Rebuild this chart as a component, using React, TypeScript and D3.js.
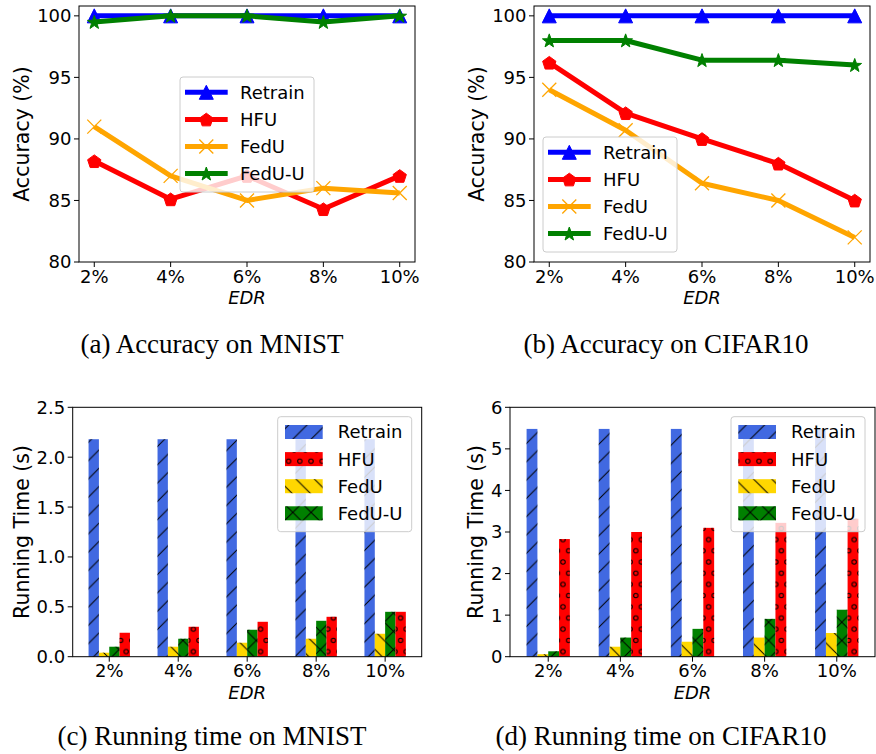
import React from "react";
import * as d3 from "d3";

// ---- data ----
const edrLabels = ["2%", "4%", "6%", "8%", "10%"];
const methodNames = ["Retrain", "HFU", "FedU", "FedU-U"];

const accMnistRetrain = [100, 100, 100, 100, 100];
const accMnistHFU = [88.2, 85.1, 87.0, 84.3, 87.0];
const accMnistFedU = [91.0, 87.0, 85.0, 86.0, 85.6];
const accMnistFedUU = [99.5, 100, 100, 99.5, 100];

const accCifarRetrain = [100, 100, 100, 100, 100];
const accCifarHFU = [96.2, 92.1, 90.0, 88.0, 85.0];
const accCifarFedU = [94.0, 90.7, 86.4, 85.0, 82.0];
const accCifarFedUU = [98.0, 98.0, 96.4, 96.4, 96.0];

const timeMnistRetrain = [2.18, 2.18, 2.18, 2.18, 2.18];
const timeMnistHFU = [0.24, 0.3, 0.35, 0.4, 0.45];
const timeMnistFedU = [0.04, 0.1, 0.14, 0.18, 0.23];
const timeMnistFedUU = [0.1, 0.18, 0.27, 0.36, 0.45];

const timeCifarRetrain = [5.48, 5.48, 5.48, 5.48, 5.48];
const timeCifarHFU = [2.83, 3.0, 3.1, 3.22, 3.32];
const timeCifarFedU = [0.06, 0.24, 0.36, 0.46, 0.57];
const timeCifarFedUU = [0.13, 0.46, 0.67, 0.91, 1.13];

const accTicks = [80, 85, 90, 95, 100];
const timeMnistTicks = [0, 0.5, 1.0, 1.5, 2.0, 2.5];
const timeCifarTicks = [0, 1, 2, 3, 4, 5, 6];

// ---- styles ----
const FONT = "DejaVu Sans";
const lineColor: Record<string, string> = {
  Retrain: "#0000ff",
  HFU: "#ff0000",
  FedU: "#ffa500",
  "FedU-U": "#008000",
};
const lineMarker: Record<string, string> = {
  Retrain: "tri",
  HFU: "pent",
  FedU: "x",
  "FedU-U": "star",
};
const barColor: Record<string, string> = {
  Retrain: "#4169e1",
  HFU: "#ff0000",
  FedU: "#ffd700",
  "FedU-U": "#008000",
};
const barHatch: Record<string, string> = {
  Retrain: "hatch-slash",
  HFU: "hatch-circle",
  FedU: "hatch-back",
  "FedU-U": "hatch-cross",
};
// left-to-right order of the bars inside a group
const barOrder = ["Retrain", "FedU", "FedU-U", "HFU"];
const BAR_W = 0.15;

function starPath(cx: number, cy: number, R: number, r: number) {
  const pts: string[] = [];
  for (let k = 0; k < 10; k++) {
    const a = -Math.PI / 2 + (k * Math.PI) / 5;
    const rr = k % 2 === 0 ? R : r;
    pts.push(`${cx + rr * Math.cos(a)},${cy + rr * Math.sin(a)}`);
  }
  return "M" + pts.join("L") + "Z";
}

function pentPath(cx: number, cy: number, R: number) {
  const pts: string[] = [];
  for (let k = 0; k < 5; k++) {
    const a = -Math.PI / 2 + (k * 2 * Math.PI) / 5;
    pts.push(`${cx + R * Math.cos(a)},${cy + R * Math.sin(a)}`);
  }
  return "M" + pts.join("L") + "Z";
}

function Marker({ kind, x, y, color }: { kind: string; x: number; y: number; color: string }) {
  if (kind === "tri") {
    return <path d={`M${x},${y - 7}L${x + 7},${y + 7}L${x - 7},${y + 7}Z`} fill={color} stroke={color} strokeWidth={1} />;
  }
  if (kind === "pent") {
    return <path d={pentPath(x, y + 0.8, 7)} fill={color} stroke={color} strokeWidth={1} />;
  }
  if (kind === "star") {
    return <path d={starPath(x, y + 0.6, 7.2, 2.9)} fill={color} stroke={color} strokeWidth={1} />;
  }
  return (
    <path d={`M${x - 7},${y - 7}L${x + 7},${y + 7}M${x - 7},${y + 7}L${x + 7},${y - 7}`} stroke={color} strokeWidth={1.3} fill="none" />
  );
}

type Frame = { x0: number; x1: number; y0: number; y1: number };

function Legend({ x, y, kind }: { x: number; y: number; kind: "line" | "bar" }) {
  const w = 134;
  const h = 115;
  return (
    <g>
      <rect x={x} y={y} width={w} height={h} rx={3} fill="#ffffff" fillOpacity={0.8} stroke="#cccccc" strokeWidth={1} />
      {methodNames.map((m, i) => {
        const cy = y + 15.3 + i * 27.1;
        return (
          <g key={m}>
            {kind === "line" ? (
              <g>
                <line x1={x + 5} x2={x + 47.7} y1={cy} y2={cy} stroke={lineColor[m]} strokeWidth={5} />
                <Marker kind={lineMarker[m]} x={x + 26.3} y={cy} color={lineColor[m]} />
              </g>
            ) : (
              <g>
                <rect x={x + 7.3} y={cy - 7} width={37.7} height={14} fill={barColor[m]} />
                <rect x={x + 7.3} y={cy - 7} width={37.7} height={14} fill={`url(#${barHatch[m]})`} />
              </g>
            )}
            <text x={x + 60} y={cy} dy="0.36em" fontFamily={FONT} fontSize={18} fill="#000">
              {m}
            </text>
          </g>
        );
      })}
    </g>
  );
}

function Axes({
  f,
  x,
  y,
  yTicks,
  yFmt,
  ylabel,
  ylabelX,
}: {
  f: Frame;
  x: d3.ScaleLinear<number, number>;
  y: d3.ScaleLinear<number, number>;
  yTicks: number[];
  yFmt: (v: number) => string;
  ylabel: string;
  ylabelX: number;
}) {
  return (
    <g fontFamily={FONT} fill="#000">
      <rect x={f.x0} y={f.y0} width={f.x1 - f.x0} height={f.y1 - f.y0} fill="none" stroke="#000" strokeWidth={1} />
      {yTicks.map((t) => (
        <g key={t}>
          <line x1={f.x0 - 5} x2={f.x0} y1={y(t)} y2={y(t)} stroke="#000" strokeWidth={1} />
          <text x={f.x0 - 7.5} y={y(t)} dy="0.36em" textAnchor="end" fontSize={18}>
            {yFmt(t)}
          </text>
        </g>
      ))}
      {edrLabels.map((l, i) => (
        <g key={l}>
          <line x1={x(i)} x2={x(i)} y1={f.y1} y2={f.y1 + 5} stroke="#000" strokeWidth={1} />
          <text x={x(i)} y={f.y1 + 20.7} textAnchor="middle" fontSize={18}>
            {l}
          </text>
        </g>
      ))}
      <text x={(f.x0 + f.x1) / 2} y={f.y1 + 41.8} textAnchor="middle" fontSize={18} fontStyle="italic">
        EDR
      </text>
      <text
        transform={`translate(${ylabelX},${(f.y0 + f.y1) / 2}) rotate(-90)`}
        textAnchor="middle"
        dy="0.32em"
        fontSize={20.5}
      >
        {ylabel}
      </text>
    </g>
  );
}

function LinePanel({
  f,
  series,
  ylabelX,
  legendPos,
}: {
  f: Frame;
  series: number[][];
  ylabelX: number;
  legendPos: [number, number];
}) {
  const x = d3.scaleLinear().domain([-0.2, 4.2]).range([f.x0, f.x1]);
  const y = d3.scaleLinear().domain([80, 100.8]).range([f.y1, f.y0]);
  const line = d3
    .line<number>()
    .x((_d, i) => x(i))
    .y((d) => y(d));
  return (
    <g>
      {series.map((vals, si) => {
        const m = methodNames[si];
        return (
          <g key={m}>
            <path d={line(vals) || ""} fill="none" stroke={lineColor[m]} strokeWidth={5} strokeLinejoin="round" />
            {vals.map((v, i) => (
              <Marker key={i} kind={lineMarker[m]} x={x(i)} y={y(v)} color={lineColor[m]} />
            ))}
          </g>
        );
      })}
      <Axes f={f} x={x} y={y} yTicks={accTicks} yFmt={(v) => String(v)} ylabel="Accuracy (%)" ylabelX={ylabelX} />
      <Legend x={legendPos[0]} y={legendPos[1]} kind="line" />
    </g>
  );
}

function BarPanel({
  f,
  series,
  yMax,
  yTicks,
  yFmt,
  ylabelX,
  legendPos,
}: {
  f: Frame;
  series: Record<string, number[]>;
  yMax: number;
  yTicks: number[];
  yFmt: (v: number) => string;
  ylabelX: number;
  legendPos: [number, number];
}) {
  const x = d3.scaleLinear().domain([-0.53, 4.53]).range([f.x0, f.x1]);
  const y = d3.scaleLinear().domain([0, yMax]).range([f.y1, f.y0]);
  const bw = x(BAR_W) - x(0);
  return (
    <g>
      {barOrder.map((m, j) => {
        const off = (j - 1.5) * BAR_W;
        return (
          <g key={m}>
            {series[m].map((v, i) => {
              const bx = x(i + off - BAR_W / 2);
              const by = y(v);
              const bh = y(0) - by;
              return (
                <g key={i}>
                  <rect x={bx} y={by} width={bw} height={bh} fill={barColor[m]} />
                  <rect x={bx} y={by} width={bw} height={bh} fill={`url(#${barHatch[m]})`} />
                </g>
              );
            })}
          </g>
        );
      })}
      <Axes f={f} x={x} y={y} yTicks={yTicks} yFmt={yFmt} ylabel="Running Time (s)" ylabelX={ylabelX} />
      <Legend x={legendPos[0]} y={legendPos[1]} kind="bar" />
    </g>
  );
}

function HatchDefs() {
  const s = 18.3;
  const c = 11.2;
  const hs = { stroke: "#000", strokeWidth: 1, fill: "none" };
  return (
    <defs>
      <pattern id="hatch-slash" patternUnits="userSpaceOnUse" width={s} height={s}>
        <path d={`M-2,${s + 2}L${s + 2},-2M-2,2L2,-2M${s - 2},${s + 2}L${s + 2},${s - 2}`} {...hs} />
      </pattern>
      <pattern id="hatch-back" patternUnits="userSpaceOnUse" width={s} height={s}>
        <path d={`M-2,-2L${s + 2},${s + 2}M-2,${s - 2}L2,${s + 2}M${s - 2},-2L${s + 2},2`} {...hs} />
      </pattern>
      <pattern id="hatch-cross" patternUnits="userSpaceOnUse" width={s} height={s}>
        <path
          d={`M-2,${s + 2}L${s + 2},-2M-2,2L2,-2M${s - 2},${s + 2}L${s + 2},${s - 2}M-2,-2L${s + 2},${s + 2}M-2,${s - 2}L2,${s + 2}M${s - 2},-2L${s + 2},2`}
          {...hs}
        />
      </pattern>
      <pattern id="hatch-circle" patternUnits="userSpaceOnUse" width={c} height={c * 2} x={3} y={2}>
        {[
          [0, 0],
          [c, 0],
          [c / 2, c],
          [0, 2 * c],
          [c, 2 * c],
        ].map(([px, py], i) => (
          <circle key={i} cx={px} cy={py} r={2.2} {...hs} />
        ))}
      </pattern>
    </defs>
  );
}

export default function App() {
  const fa: Frame = { x0: 79, x1: 415, y0: 6, y1: 262 };
  const fb: Frame = { x0: 534, x1: 870, y0: 6, y1: 262 };
  const fc: Frame = { x0: 72.7, x1: 421.7, y0: 407.3, y1: 656.7 };
  const fd: Frame = { x0: 510, x1: 875, y0: 407.3, y1: 656.7 };

  return (
    <div>
      <style>{"body{margin:0;background:#fff}"}</style>
      <svg width={876} height={754} viewBox="0 0 876 754" style={{ display: "block" }}>
        <rect width={876} height={754} fill="#fff" />
        <HatchDefs />
        <LinePanel
          f={fa}
          series={[accMnistRetrain, accMnistHFU, accMnistFedU, accMnistFedUU]}
          ylabelX={fa.x0 - 57}
          legendPos={[(fa.x0 + fa.x1) / 2 - 67, (fa.y0 + fa.y1) / 2 - 57]}
        />
        <LinePanel
          f={fb}
          series={[accCifarRetrain, accCifarHFU, accCifarFedU, accCifarFedUU]}
          ylabelX={fb.x0 - 57}
          legendPos={[fb.x0 + 9, fb.y1 - 10 - 115]}
        />
        <BarPanel
          f={fc}
          series={{ Retrain: timeMnistRetrain, HFU: timeMnistHFU, FedU: timeMnistFedU, "FedU-U": timeMnistFedUU }}
          yMax={2.5}
          yTicks={timeMnistTicks}
          yFmt={d3.format(".1f")}
          ylabelX={fc.x0 - 50}
          legendPos={[fc.x1 - 10 - 134, fc.y0 + 9.4]}
        />
        <BarPanel
          f={fd}
          series={{ Retrain: timeCifarRetrain, HFU: timeCifarHFU, FedU: timeCifarFedU, "FedU-U": timeCifarFedUU }}
          yMax={6}
          yTicks={timeCifarTicks}
          yFmt={d3.format("d")}
          ylabelX={fd.x0 - 34}
          legendPos={[fd.x1 - 10 - 134, fd.y0 + 9.4]}
        />
        <g fontFamily="Liberation Serif" fontSize={27} fill="#000" textAnchor="middle">
          <text x={212} y={353}>(a) Accuracy on MNIST</text>
          <text x={666} y={353}>(b) Accuracy on CIFAR10</text>
          <text x={212} y={745}>(c) Running time on MNIST</text>
          <text x={661} y={745}>(d) Running time on CIFAR10</text>
        </g>
      </svg>
    </div>
  );
}
